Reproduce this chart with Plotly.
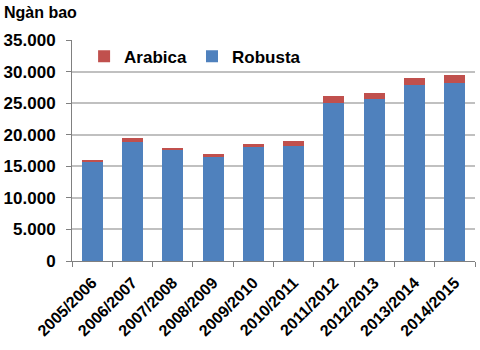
import plotly.graph_objects as go

seasons = ["2005/2006", "2006/2007", "2007/2008", "2008/2009", "2009/2010",
           "2010/2011", "2011/2012", "2012/2013", "2013/2014", "2014/2015"]
robusta = [15700, 18900, 17550, 16450, 18000, 18150, 24950, 25600, 27950, 28200]
arabica = [350, 650, 400, 550, 600, 850, 1200, 950, 1050, 1200]

font_family = "Liberation Sans, Arial, sans-serif"

fig = go.Figure()
fig.add_trace(go.Bar(x=seasons, y=robusta, name="Robusta",
                     marker=dict(color="#4F81BD", line=dict(width=0))))
fig.add_trace(go.Bar(x=seasons, y=arabica, name="Arabica",
                     marker=dict(color="#C0504D", line=dict(width=0))))

fig.update_layout(
    width=480, height=350,
    barmode="stack", bargap=0.48,
    separators=",.",
    paper_bgcolor="white", plot_bgcolor="white",
    margin=dict(l=72, r=5, t=40, b=89),
    font=dict(family=font_family, color="black"),
    legend=dict(orientation="h", x=0.03, y=0.925, xanchor="left", yanchor="middle",
                traceorder="reversed", bgcolor="rgba(0,0,0,0)",
                font=dict(size=17, family=font_family, weight="bold"),
                itemwidth=30),
)
fig.add_annotation(text="<b>Ngàn bao</b>", xref="paper", yref="paper",
                   x=-70/403, y=1 + 28/221, xanchor="left", yanchor="middle",
                   showarrow=False, font=dict(size=16, family=font_family))

fig.update_yaxes(range=[0, 35000], dtick=5000, tickformat=",d",
                 showgrid=True, gridcolor="#C0C0C0", gridwidth=1.6,
                 showline=True, linecolor="#808080", linewidth=1,
                 ticks="outside", ticklen=5, tickcolor="#808080",
                 ticklabelstandoff=7,
                 tickfont=dict(size=17, family=font_family, weight="bold"),
                 zeroline=False)
fig.update_xaxes(showline=True, linecolor="#808080", linewidth=1,
                 ticks="outside", ticklen=5, tickcolor="#808080",
                 tickson="boundaries", tickangle=-45, ticklabelstandoff=5,
                 tickfont=dict(size=16, family=font_family, weight="bold"))

fig.write_html("out.html")
